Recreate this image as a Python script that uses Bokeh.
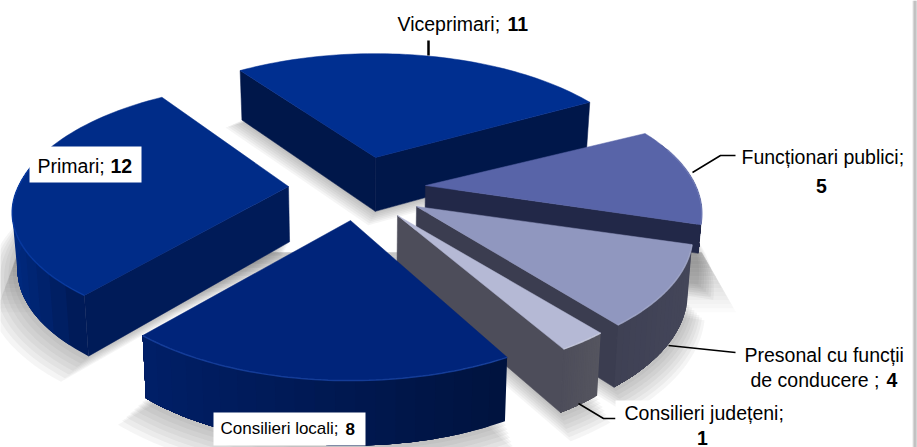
import numpy as np
from bokeh.plotting import figure
from bokeh.models import Range1d
from bokeh.embed import file_html
from bokeh.resources import INLINE
from bokeh.core.properties import value

categories = ["Viceprimari", "Funcționari publici", "Presonal cu funcții de conducere", "Consilieri județeni", "Consilieri locali", "Primari"]
values = [11, 5, 4, 1, 8, 12]

# layout of the exploded 3D pie (pixels)
W, H = 917, 447
START = -122.5
A, B, K = 270.0, 126.0, 0.213
apex = [(375, 157), (425, 185), (416, 206), (397, 215), (350, 220), (288, 186)]
turn0 = [-3.5, -1.0, -1.5, -2.0, 0.0, -3.0]
turn1 = [-3.0, -1.0, -1.5, -2.0, -2.0, -1.0]
flat = [1.0, 1.0, 1.0, 1.0, 1.0, 0.93]
wall = [1.0, 0.5, 1.0, 1.0, 1.0, 1.0]
top_col = ["#002f90", "#5864a8", "#9097bf", "#b5b9d5", "#00247a", "#002c88"]
rad_col = ["#00174a", "#222848", "#3b3d50", "#4d4d5a", "#00174a", "#001b58"]
arc_l = ["#001c5c", "#2a3058", "#3e4054", "#4d4d5a", "#001f68", "#002a80"]
arc_r = ["#00174a", "#222848", "#444659", "#55555f", "#00133f", "#001b58"]
rim = ["#1040a0", "#7a84bd", "#a8aecd", "#d0d3e4", "#1c48a8", "#0a3ea8"]
order = [0, 5, 1, 2, 3, 4]

p = figure(width=W, height=H, x_range=Range1d(0, W), y_range=Range1d(H, 0),
           output_backend="svg", toolbar_location=None, min_border=0,
           margin=(0, -8, -8, 0))
p.axis.visible = False
p.grid.visible = False
p.outline_line_color = None
p.background_fill_color = "white"
p.border_fill_color = "white"


def proj(th, r=1.0, f=1.0):
    u, v = r * np.cos(th), r * np.sin(th)
    d = 1 - K * v
    return A * u / d, np.where(v > 0, f, 1.0) * B * v / d


def depth(y):
    return 56 + 0.05 * (np.asarray(y) - 200)


def lower(x, y, s=1.0):
    x, y = np.asarray(x, float), np.asarray(y, float)
    return x + (360 - x) * 0.015 * s, y + depth(y) * s


def lerp(c1, c2, t):
    t = float(np.clip(t, 0, 1))
    a = [int(c1[i:i + 2], 16) for i in (1, 3, 5)]
    b = [int(c2[i:i + 2], 16) for i in (1, 3, 5)]
    return "#%02x%02x%02x" % tuple(int(round(x + (y - x) * t)) for x, y in zip(a, b))


# floor reflection
for i in range(16):
    y0, y1 = 252 + i * 4, 256 + i * 4
    t = max(0.0, (i - 2) / 13)
    col = lerp("#c6c6c6", "#ffffff", t)
    xl = lambda y: 16 - (y - 257) * 0.37
    xr = lambda y: 700 + (y - 250) * 0.57
    p.patch([xl(y0), xr(y0), xr(y1), xl(y1)], [y0, y0, y1, y1], fill_color=col, line_color=col, line_width=0.5)

total = sum(values)
angles = np.radians(START + 360 * np.cumsum([0] + values) / total)

# soft shadows
for k in range(7, 0, -1):
    for i in order:
        th = np.linspace(angles[i] + np.radians(turn0[i]), angles[i + 1] + np.radians(turn1[i]), 60)
        dx, dy = proj(th, 1 + 0.012 * k, flat[i])
        x = np.r_[apex[i][0], apex[i][0] + dx]
        y = np.r_[apex[i][1], apex[i][1] + dy]
        lx, ly = lower(x, y)
        p.patch(lx - k, ly + 2 * k, fill_color="#505050", fill_alpha=0.055, line_color=None)

for i in order:
    ax, ay = apex[i]
    a0, a1 = angles[i] + np.radians(turn0[i]), angles[i + 1] + np.radians(turn1[i])
    th = np.linspace(a0, a1, 61)
    dx, dy = proj(th, 1.0, flat[i])
    x, y = ax + dx, ay + dy
    # outer wall, painted as overlapping shrinking bands so no seams show
    vis = np.where(np.sin(th) > -0.35)[0]
    if len(vis) > 1:
        xv, yv = x[vis], y[vis]
        bx, by = lower(xv, yv, wall[i])
        for j in range(0, len(xv) - 1, 3):
            c = lerp(arc_l[i], arc_r[i], (xv[j] - xv.min()) / (np.ptp(xv) + 1))
            p.patch(np.r_[xv[j:], bx[j:][::-1]], np.r_[yv[j:], by[j:][::-1]],
                    fill_color=c, line_color=None)
    # radial walls that face the viewer
    for ang, px, py, sign in ((a0, x[0], y[0], -1), (a1, x[-1], y[-1], 1)):
        if sign * np.cos(ang) > 0:
            (qx, rx), (qy, ry) = lower([px, ax], [py, ay], wall[i])
            xs = [ax, px, qx, rx]
            ys = [ay, py, qy, ry]
            p.patch(xs, ys, fill_color=rad_col[i], line_color=rad_col[i], line_width=0.5)
    # top face
    p.patch(np.r_[ax, x], np.r_[ay, y], fill_color=top_col[i], line_color=top_col[i], line_width=0.5)
    mask = np.sin(th) > -0.3
    if mask.any():
        p.line(x[mask], y[mask], line_color=rim[i], line_width=1.5, line_alpha=0.7)

# right-hand frame strip
for i, c in enumerate(["#e6e6e6", "#b8b8b8", "#a8a8a8", "#b4b4b4", "#d0d0d0"]):
    p.quad(left=912 + i, right=913 + i, top=0, bottom=H, fill_color=c, line_color=None)

# leader lines
for xs, ys, w in (([428, 428], [40, 55], 2.5),
                  ([692, 720, 735], [172, 155, 155], 1.5),
                  ([668, 735], [345, 352], 1.5),
                  ([578, 603, 615], [403, 418, 418], 1.5)):
    p.line(xs, ys, line_color="black", line_width=w)

# label boxes
for l, r, t, b in ((29, 141, 146, 182), (213, 365, 412, 445), (615, 790, 400, 447)):
    p.quad(left=l, right=r, top=t, bottom=b, fill_color="white", line_color=None)

FONT = value("Liberation Sans")


def txt(x, y, s, size="19.5px", bold=False, align="left"):
    p.text([x], [y], text=[s], text_font=FONT, text_font_size=size, text_color="black",
           text_font_style="bold" if bold else "normal", text_align=align, text_baseline="middle")


txt(397, 23, categories[0] + ";")
txt(507, 23, str(values[0]), bold=True)
txt(37, 165, categories[5] + ";")
txt(110, 165, str(values[5]), bold=True)
txt(220, 428, categories[4] + ";", size="17px")
txt(345, 428, str(values[4]), size="17px", bold=True)
txt(741, 156, categories[1] + ";")
txt(821, 185, str(values[1]), bold=True, align="center")
txt(744, 354, "Presonal cu funcții")
txt(750, 379, "de conducere ;")
txt(886, 379, str(values[2]), bold=True)
txt(624, 412, categories[3] + ";")
txt(702, 437, str(values[3]), bold=True, align="center")

open("out.html", "w").write(file_html(p, INLINE))
